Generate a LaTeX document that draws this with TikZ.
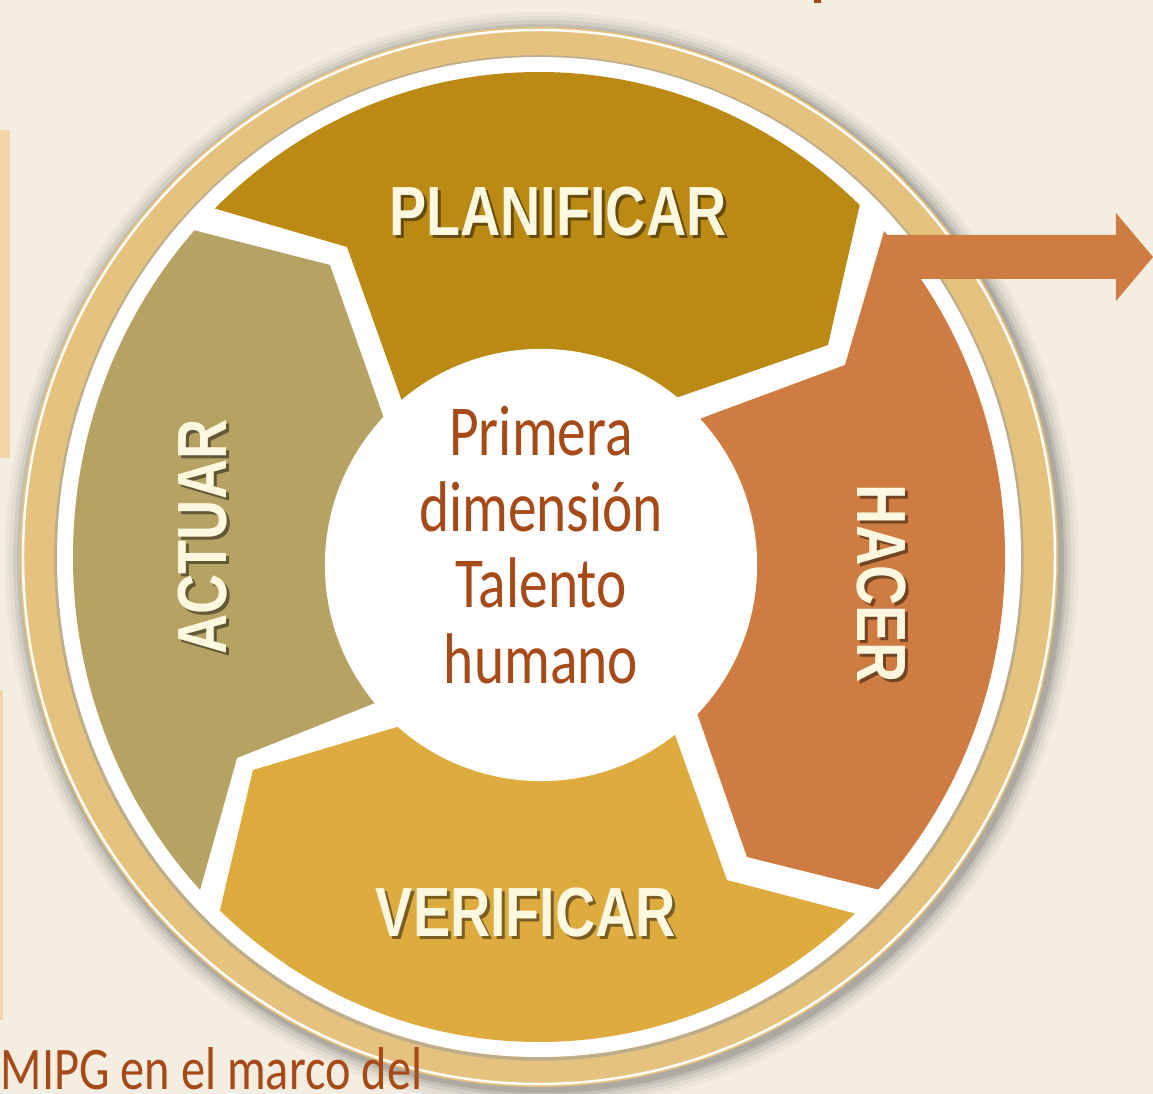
\documentclass[tikz,border=0pt]{standalone}
\usepackage{fontspec}
\setmainfont{Carlito}[FakeStretch=0.8]
\newfontfamily\etiq{Liberation Sans}[FakeStretch=0.8]
\usetikzlibrary{positioning}

\definecolor{fondo}{HTML}{F4EEE2}
\definecolor{anillo}{HTML}{E5C37E}
\definecolor{planificar}{HTML}{BA8A14}
\definecolor{hacer}{HTML}{CE7C41}
\definecolor{verificar}{HTML}{DEAB3E}
\definecolor{actuar}{HTML}{B6A262}
\definecolor{marron}{HTML}{A64A17}
\definecolor{barra}{HTML}{F1D6A8}
\definecolor{crema}{HTML}{FFF8E0}

\tikzset{
  etiqueta/.style={font=\etiq\bfseries\fontsize{19.8}{24}\selectfont, text=crema, inner sep=0},
  sombra/.style={etiqueta, text=black, text opacity=0.45},
  texto marron/.style={text=marron, inner sep=0}
}

\begin{document}
\begin{tikzpicture}[x=0.01cm, y=-0.01cm]
				% Fondo, barras y anillo:
				\useasboundingbox (0,0) rectangle (1153,1094);
				\fill[fondo] (0,0) rectangle (1153,1094);
				\fill[barra] (0,130) rectangle (10,458);
				\fill[barra] (0,690) rectangle (3,1020);
				\fill[marron] (814,0) rectangle (821,3);
				\foreach \r/\o in {18/0.03, 14/0.04, 10/0.06, 6/0.08, 3/0.1}
					\fill[black, opacity=\o] (542,560) ellipse [x radius=519+\r, y radius=530+\r];
				\fill[anillo] (539,557) ellipse [x radius=519, y radius=530];
				\draw[white, line width=0.7pt] (539,557) ellipse [x radius=516, y radius=527];
				\draw[black!40, opacity=0.5, line width=1pt] (539,558) ellipse [x radius=483, y radius=501];
				\fill[white] (539,557) ellipse [x radius=482, y radius=500];
				% Segmentos:
				\begin{scope}
					\clip (539,557) ellipse [x radius=466, y radius=485];
					\fill[planificar] (80,169) -- (213,208) -- (347,247) -- (397,387) -- (430,480) -- (600,424) -- (693,392) -- (828,345) -- (862,195) -- (885,95) -- (885,-50) -- (80,-50) -- cycle;
					\fill[actuar] (-50,168) -- (193,230) -- (330,265) -- (380,407) -- (405,478) -- (450,673) -- (370,705) -- (237,758) -- (200,890) -- (180,960) -- (-50,960) -- cycle;
					\fill[verificar] (205,974) -- (220,910) -- (253,770) -- (397,727) -- (470,705) -- (650,665) -- (675,735) -- (727,880) -- (853,913) -- (980,946) -- (980,1150) -- (150,1150) -- cycle;
					\fill[hacer] (915,125) -- (885,228) -- (845,365) -- (710,415) -- (620,450) -- (680,665) -- (697,713) -- (747,857) -- (880,890) -- (1010,922) -- (1200,922) -- (1200,100) -- cycle;
				\end{scope}
				\node[circle, fill=white, minimum size=4.32cm, inner sep=0] (centro) at (541,565) {};
				% Flecha:
				\fill[hacer] (883,235) -- (1116,235) -- (1116,213) -- (1153,257) -- (1116,301) -- (1116,279) -- (883,279) -- cycle;
				% Textos:
				\node[sombra] at (561,215) {PLANIFICAR};
				\node[etiqueta] (planificar) at (558,212) {PLANIFICAR};
				\node[sombra, rotate=-90] at (884,587) {HACER};
				\node[etiqueta, rotate=-90] (hacer) at (881,584) {HACER};
				\node[sombra] at (529,916) {VERIFICAR};
				\node[etiqueta] (verificar) at (526,913) {VERIFICAR};
				\node[sombra, rotate=90] at (206,540) {ACTUAR};
				\node[etiqueta, rotate=90] (actuar) at (203,537) {ACTUAR};
				\node[texto marron, align=center, font=\fontsize{20.4}{21.6}\selectfont] (dimension) at (541,545) {Primera\\dimensión\\Talento\\humano};
				\node[texto marron, anchor=base west, font=\fontsize{17.2}{20}\selectfont] (marco) at (0,1090) {MIPG en el marco del};
			\end{tikzpicture}
\end{document}
